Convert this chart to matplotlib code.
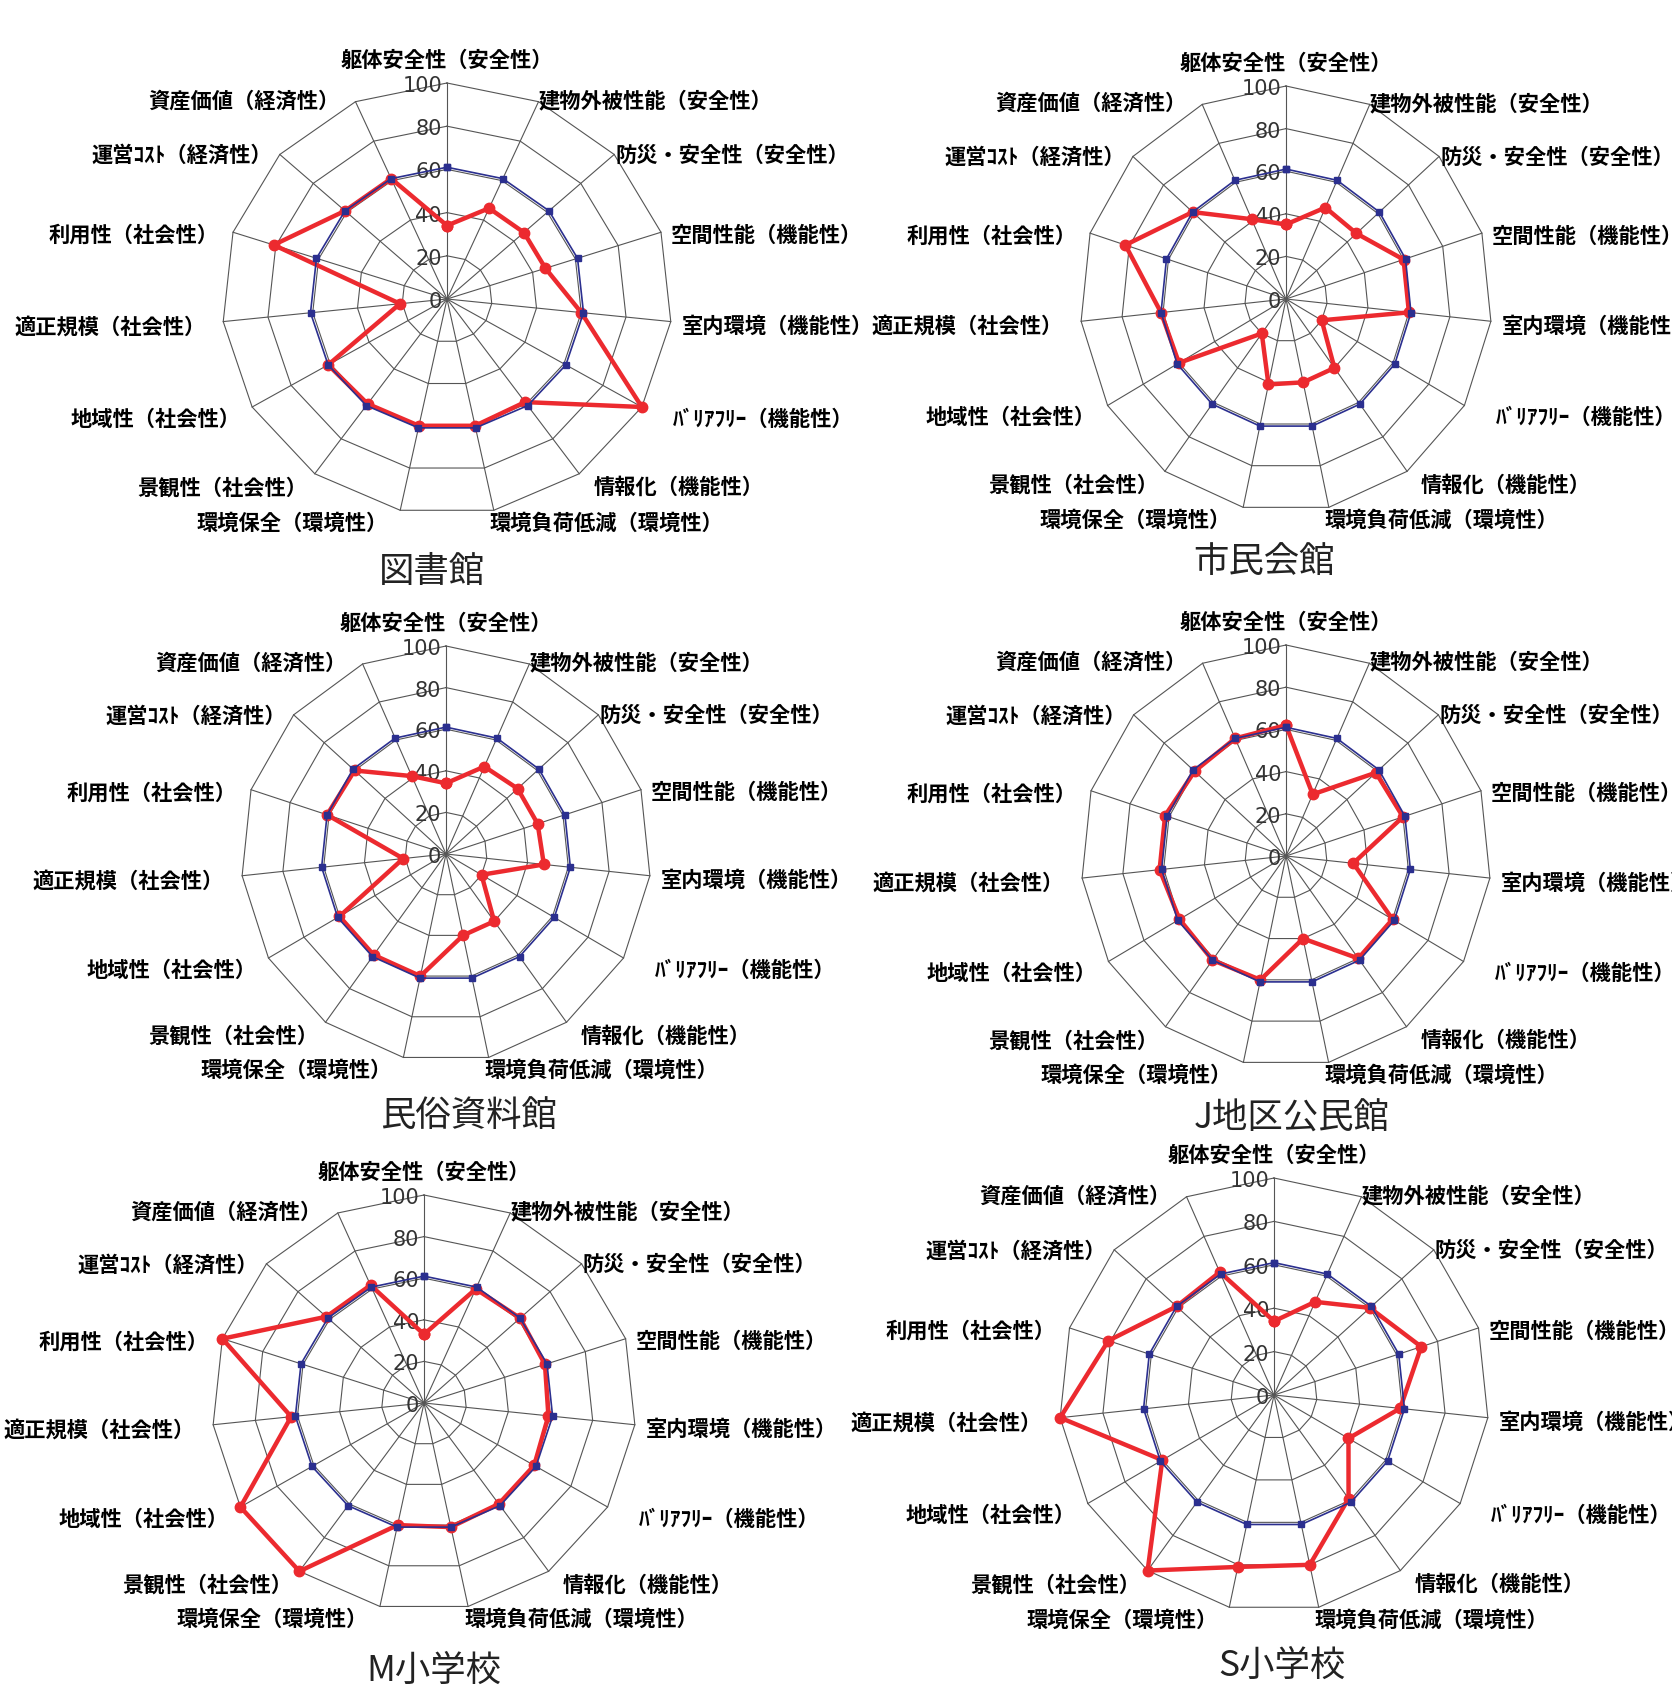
import numpy as np
import matplotlib
matplotlib.use("Agg")
import matplotlib.pyplot as plt

plt.rcParams['font.family'] = ['Noto Sans CJK JP', 'DejaVu Sans']

# evaluation items, clockwise from the top
koumoku = ["躯体安全性（安全性）", "建物外被性能（安全性）", "防災・安全性（安全性）",
           "空間性能（機能性）", "室内環境（機能性）", "ﾊﾞﾘｱﾌﾘｰ（機能性）",
           "情報化（機能性）", "環境負荷低減（環境性）", "環境保全（環境性）",
           "景観性（社会性）", "地域性（社会性）", "適正規模（社会性）",
           "利用性（社会性）", "運営ｺｽﾄ（経済性）", "資産価値（経済性）"]

# reference line (blue) shared by every facility
heikin = [61, 61, 61, 61, 61, 61, 61, 61, 61, 61, 61, 61, 61, 61, 61]

# scores per facility (red)
toshokan = [34, 46, 46, 46, 60, 100, 59, 60, 60, 60, 61, 21, 81, 61, 61]
shimin_kaikan = [35, 47, 46, 60, 60, 20, 40, 40, 41, 20, 60, 61, 82, 61, 41]
minzoku_shiryoukan = [34, 46, 47, 47, 48, 20, 40, 40, 60, 60, 60, 21, 61, 60, 41]
j_kouminkan = [62, 32, 59, 60, 33, 60, 60, 40, 60, 61, 60, 62, 62, 60, 61]
m_shougakkou = [33, 60, 61, 60, 59, 60, 60, 61, 60, 100, 100, 63, 100, 62, 62]
s_shougakkou = [34, 47, 60, 72, 59, 40, 59, 80, 81, 100, 60, 100, 81, 61, 62]

meimoku = ["0", "20", "40", "60", "80", "100"]
memori = [0, 20, 40, 60, 80, 100]

# label offsets from the outer vertex in pixels (x right, y down)
lab_dx = [0, 0, 1, 10, 11, 31, 14, -4, -12, -7, -12, -18, -14, -8, -16]
lab_dy = [-23, -1, 1, 3, 5, 12, 14, 13, 13, 14, 12, 5, 3, 1, -1]

W, H = 1672, 1689
fig = plt.figure(figsize=(W / 100, H / 100), dpi=100)
fig.patch.set_facecolor("white")

RED = "#ec2a2f"
BLUE = "#2b2f8f"
GRID = "#555555"

theta = np.deg2rad(np.arange(len(koumoku)) * 24.0)
theta_c = np.append(theta, theta[0])


def radar(cx, cy, rx, ry, vals, title, tx, ty):
    ax = fig.add_axes([(cx - rx) / W, 1 - (cy + ry) / H, 2 * rx / W, 2 * ry / H],
                      projection="polar")
    ax.set_aspect("auto")
    ax.set_theta_zero_location("N")
    ax.set_theta_direction(-1)
    ax.set_ylim(0, 100)
    ax.grid(False)
    ax.set_xticks([])
    ax.set_yticks([])
    ax.spines["polar"].set_visible(False)
    ax.patch.set_alpha(0)

    # spider web
    for r in memori[1:]:
        ax.plot(theta_c, [r] * len(theta_c), color=GRID, lw=0.8, zorder=1, clip_on=False)
    for t in theta:
        ax.plot([t, t], [0, 100], color=GRID, lw=0.8, zorder=1, clip_on=False)

    # scale numbers along the top spoke
    for r, s in zip(memori, meimoku):
        ax.annotate(s, xy=(0, r), xytext=(-5, -3), textcoords="offset pixels",
                    ha="right", va="center", fontsize=15, color="#333333",
                    family=["Liberation Sans Narrow", "DejaVu Sans"], zorder=2)

    # item labels
    for i, (t, s) in enumerate(zip(theta, koumoku)):
        sn = np.sin(t)
        if abs(sn) < 1e-6:
            ha = "center"
        else:
            ha = "left" if sn > 0 else "right"
        ax.annotate(s, xy=(t, 100), xytext=(lab_dx[i], -lab_dy[i]),
                    textcoords="offset pixels", ha=ha, va="center",
                    fontsize=15.3, fontweight="bold", annotation_clip=False)

    v = list(vals) + [vals[0]]
    b = list(heikin) + [heikin[0]]
    ax.plot(theta_c, v, color=RED, lw=3.2, marker="o", ms=7.5, zorder=3, clip_on=False)
    ax.plot(theta_c, b, color=BLUE, lw=1.2, marker="s", ms=4, zorder=4, clip_on=False)

    fig.text(tx / W, 1 - ty / H, title, ha="center", va="center", fontsize=25.5,
             color="#222222")


radar(447, 299, 225, 216, toshokan, "図書館", 432, 572)
radar(1286, 299, 206, 213, shimin_kaikan, "市民会館", 1264, 562)
radar(446, 854, 205, 208, minzoku_shiryoukan, "民俗資料館", 469, 1116)
radar(1286, 856, 205, 211, j_kouminkan, "J地区公民館", 1292, 1119)
radar(424, 1403, 212, 208, m_shougakkou, "M小学校", 434, 1671)
radar(1274, 1395, 215, 217, s_shougakkou, "S小学校", 1282, 1666)

fig.savefig("out.png", dpi=100, facecolor="white")
